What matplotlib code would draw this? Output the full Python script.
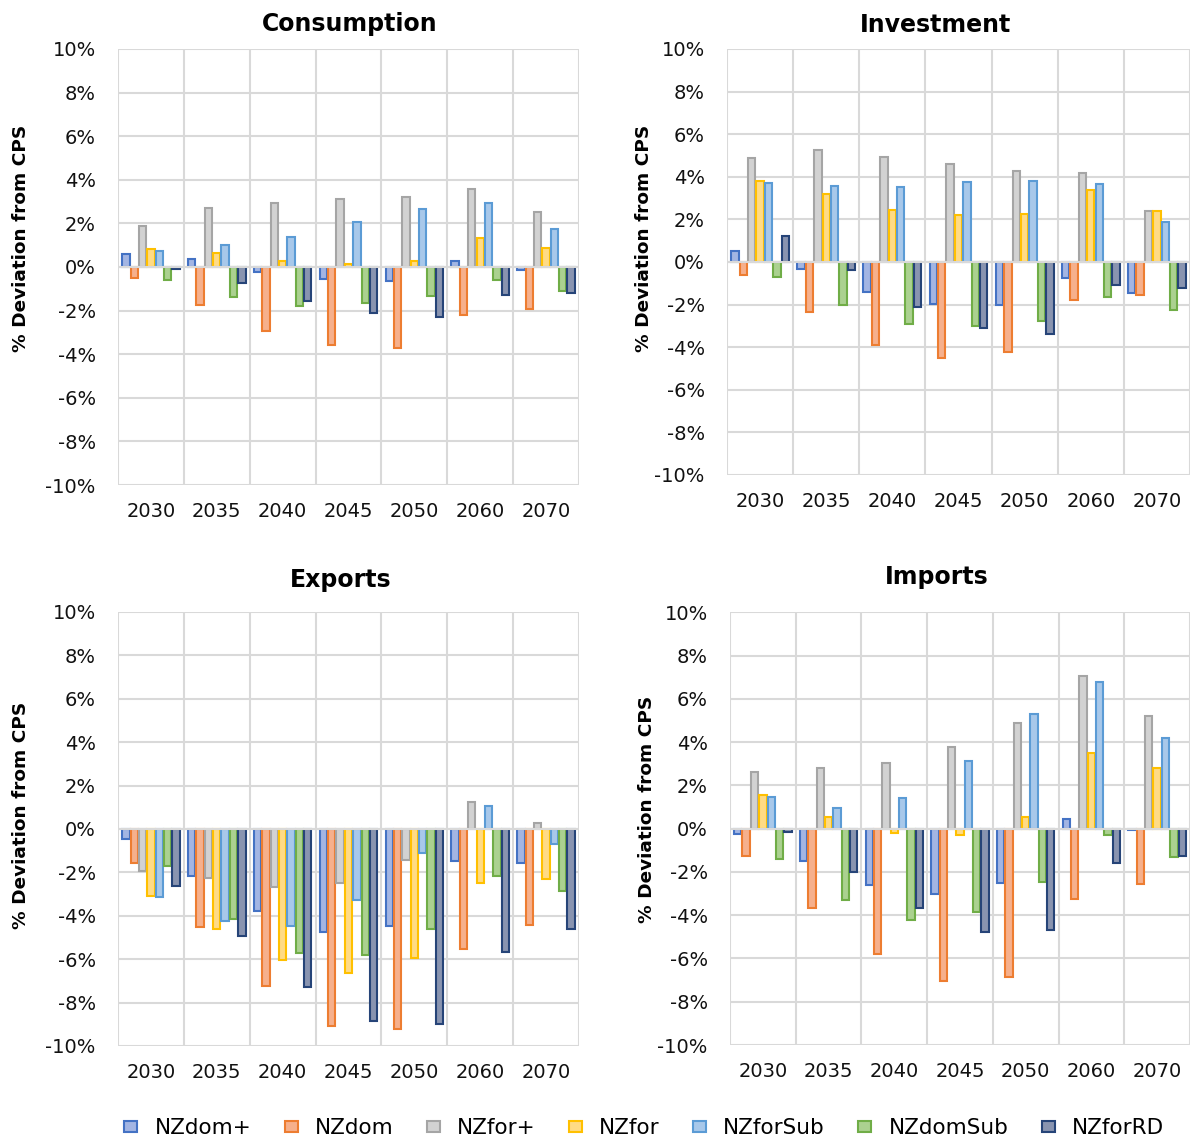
import numpy as np
import matplotlib
matplotlib.use("Agg")
import matplotlib.pyplot as plt
from matplotlib.patches import Patch

plt.rcParams['font.family'] = ['DejaVu Sans']

years = ["2030", "2035", "2040", "2045", "2050", "2060", "2070"]
series = ["NZdom+", "NZdom", "NZfor+", "NZfor", "NZforSub", "NZdomSub", "NZforRD"]

# % deviation from CPS, one row per series (same order as `series`)
consumption = [
    [0.60, 0.37, -0.23, -0.57, -0.66, 0.29, -0.14],
    [-0.50, -1.73, -2.95, -3.60, -3.72, -2.20, -1.91],
    [1.88, 2.72, 2.94, 3.10, 3.21, 3.59, 2.52],
    [0.83, 0.66, 0.29, 0.14, 0.29, 1.33, 0.89],
    [0.72, 0.99, 1.39, 2.06, 2.65, 2.94, 1.73],
    [-0.61, -1.38, -1.79, -1.65, -1.33, -0.61, -1.12],
    [-0.09, -0.73, -1.54, -2.11, -2.31, -1.30, -1.21],
]
investment = [
    [0.50, -0.33, -1.41, -1.95, -2.00, -0.77, -1.47],
    [-0.59, -2.36, -3.92, -4.50, -4.22, -1.77, -1.56],
    [4.88, 5.27, 4.92, 4.61, 4.25, 4.20, 2.41],
    [3.78, 3.20, 2.45, 2.20, 2.27, 3.39, 2.39],
    [3.72, 3.55, 3.50, 3.75, 3.80, 3.64, 1.86],
    [-0.69, -2.03, -2.89, -3.02, -2.78, -1.64, -2.25],
    [1.20, -0.36, -2.11, -3.11, -3.38, -1.09, -1.22],
]
exports = [
    [-0.46, -2.17, -3.80, -4.75, -4.46, -1.48, -1.57],
    [-1.58, -4.51, -7.22, -9.08, -9.22, -5.55, -4.43],
    [-1.95, -2.28, -2.69, -2.49, -1.42, 1.25, 0.29],
    [-3.08, -4.60, -6.02, -6.62, -5.94, -2.49, -2.32],
    [-3.15, -4.23, -4.49, -3.28, -1.09, 1.06, -0.68],
    [-1.71, -4.14, -5.71, -5.82, -4.60, -2.17, -2.85],
    [-2.65, -4.94, -7.28, -8.86, -8.98, -5.65, -4.63],
]
imports = [
    [-0.26, -1.50, -2.60, -3.01, -2.49, 0.45, -0.05],
    [-1.28, -3.68, -5.78, -7.03, -6.86, -3.26, -2.57],
    [2.63, 2.80, 3.01, 3.77, 4.88, 7.05, 5.19],
    [1.56, 0.56, -0.22, -0.29, 0.56, 3.51, 2.80],
    [1.48, 0.97, 1.41, 3.12, 5.30, 6.77, 4.19],
    [-1.41, -3.29, -4.22, -3.83, -2.47, -0.28, -1.31],
    [-0.17, -2.02, -3.69, -4.78, -4.70, -1.61, -1.25],
]
y_ticks = [-10, -8, -6, -4, -2, 0, 2, 4, 6, 8, 10]

edge_cols = ["#4472C4", "#ED7D31", "#A5A5A5", "#FFC000", "#5B9BD5", "#70AD47", "#264478"]
fill_cols = ["#A3B5E3", "#F6B08C", "#D2D2D2", "#FFDB85", "#A8C8EA", "#ABD190", "#8994B0"]

# title, data, axes rect, title xy (axes frac), ylabel xy (axes frac)
panels = [
    ("Consumption", consumption, [0.0989, 0.5753, 0.3864, 0.3818], (0.503, 1.058), (-0.191, 0.566)),
    ("Investment", investment, [0.6094, 0.5841, 0.3881, 0.3730], (0.451, 1.057), (-0.160, 0.556)),
    ("Exports", exports, [0.0989, 0.0841, 0.3864, 0.3800], (0.484, 1.074), (-0.191, 0.532)),
    ("Imports", imports, [0.6119, 0.0849, 0.3856, 0.3790], (0.450, 1.081), (-0.161, 0.545)),
]

fig = plt.figure(figsize=(11.93, 11.42), dpi=100)
x = np.arange(len(years))
step = 0.127
grid_col = "#D9D9D9"

for title, data, pos, tpos, lpos in panels:
    ax = fig.add_axes(pos)
    for i, name in enumerate(series):
        off = (i - 3) * step
        ax.bar(x + off, data[i], width=step * 0.88, color=fill_cols[i],
               edgecolor=edge_cols[i], linewidth=1.5, zorder=3)
    ax.set_xlim(-0.5, len(years) - 0.5)
    ax.set_ylim(-10, 10)
    ax.set_yticks(y_ticks)
    ax.set_yticklabels([f"{v}%" for v in y_ticks])
    ax.set_xticks(x)
    ax.set_xticklabels(years)
    ax.set_xticks(np.arange(-0.5, len(years)), minor=True)
    ax.grid(axis="y", which="major", color=grid_col, linewidth=1.5, zorder=0)
    ax.grid(axis="x", which="minor", color=grid_col, linewidth=1.5, zorder=0)
    ax.grid(axis="x", which="major", visible=False)
    ax.axhline(0, color=grid_col, linewidth=1.5, zorder=4)
    for s in ax.spines.values():
        s.set_visible(False)
    ax.tick_params(axis="both", which="both", length=0, labelsize=14, colors="#111111")
    ax.tick_params(axis="x", pad=12)
    ax.tick_params(axis="y", pad=16)
    ax.text(tpos[0], tpos[1], title, transform=ax.transAxes, ha="center", va="center",
            fontsize=17, fontweight="bold")
    ax.set_ylabel("% Deviation from CPS", fontsize=13.3, fontweight="bold")
    ax.yaxis.set_label_coords(lpos[0], lpos[1])

handles = [Patch(facecolor=fill_cols[i], edgecolor=edge_cols[i], linewidth=1.5)
           for i in range(len(series))]
fig.legend(handles, series, loc="center", ncol=7, bbox_to_anchor=(0.54, 0.0123),
           frameon=False, fontsize=15.5, handlelength=0.6, handleheight=0.42,
           handletextpad=0.8, columnspacing=1.55, borderaxespad=0)

fig.savefig("out.png", dpi=100)
